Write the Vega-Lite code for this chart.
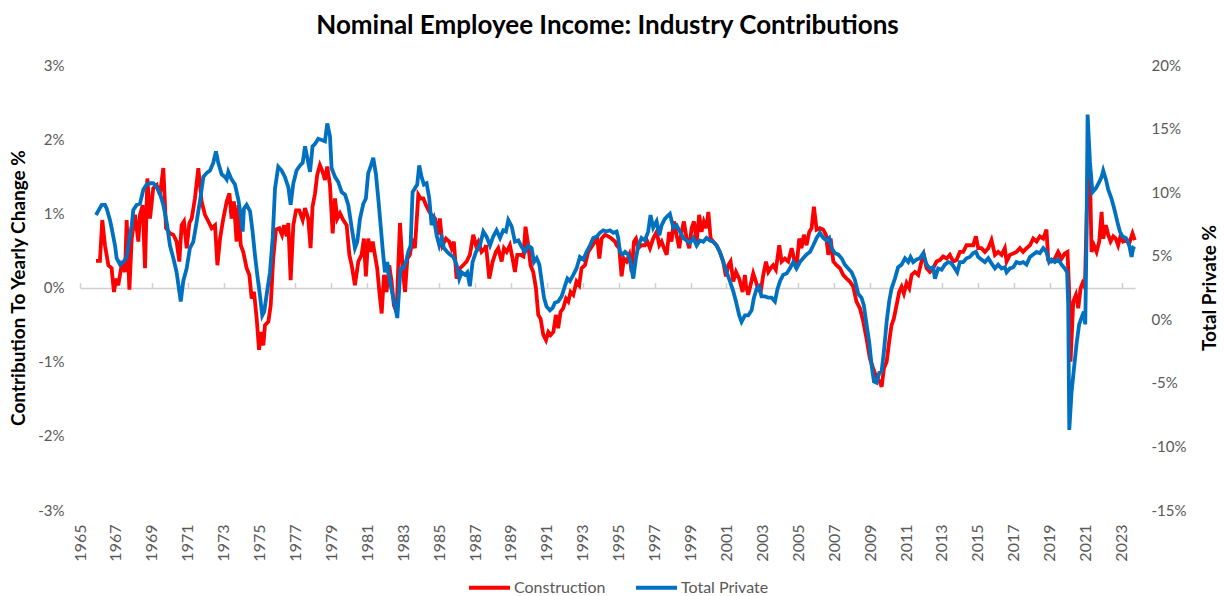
{
  "$schema": "https://vega.github.io/schema/vega-lite/v6.json",
  "width": 1055,
  "height": 445,
  "autosize": {"type": "none"},
  "padding": {"left": 80, "top": 65, "right": 90, "bottom": 86},
  "background": "white",
  "title": {"text": "Nominal Employee Income: Industry Contributions", "font": "Lato", "fontSize": 26, "fontWeight": "bold", "color": "#000000", "anchor": "middle", "offset": 19},
  "config": {"view": {"stroke": null}, "font": "Lato"},
  "datasets": {
    "c": [
      {"t":1965.89,"v":0.36},{"t":1966.11,"v":0.36},{"t":1966.24,"v":0.91},{"t":1966.39,"v":0.57},{"t":1966.58,"v":0.30},{"t":1966.76,"v":0.26},{"t":1966.89,"v":-0.06},{"t":1967.00,"v":0.12},{"t":1967.13,"v":0.03},{"t":1967.32,"v":0.30},{"t":1967.51,"v":0.21},{"t":1967.60,"v":0.91},{"t":1967.75,"v":-0.03},{"t":1967.88,"v":0.66},{"t":1968.06,"v":0.98},{"t":1968.25,"v":0.62},{"t":1968.34,"v":0.98},{"t":1968.49,"v":1.11},{"t":1968.62,"v":0.26},{"t":1968.75,"v":1.47},{"t":1968.90,"v":0.93},{"t":1969.08,"v":1.34},{"t":1969.27,"v":1.38},{"t":1969.45,"v":1.25},{"t":1969.64,"v":1.61},{"t":1969.79,"v":0.80},{"t":1970.01,"v":0.73},{"t":1970.20,"v":0.71},{"t":1970.38,"v":0.62},{"t":1970.53,"v":0.35},{"t":1970.66,"v":0.84},{"t":1970.79,"v":0.89},{"t":1970.94,"v":0.53},{"t":1971.09,"v":0.87},{"t":1971.22,"v":0.93},{"t":1971.40,"v":1.20},{"t":1971.59,"v":1.61},{"t":1971.77,"v":1.16},{"t":1971.96,"v":0.98},{"t":1972.15,"v":0.89},{"t":1972.33,"v":0.80},{"t":1972.52,"v":0.84},{"t":1972.65,"v":0.30},{"t":1972.80,"v":0.66},{"t":1972.98,"v":0.93},
      {"t":1973.17,"v":1.16},{"t":1973.32,"v":1.27},{"t":1973.44,"v":0.93},{"t":1973.57,"v":1.16},{"t":1973.72,"v":0.62},{"t":1973.82,"v":1.11},{"t":1973.95,"v":0.57},{"t":1974.09,"v":0.48},{"t":1974.28,"v":0.26},{"t":1974.43,"v":0.17},{"t":1974.56,"v":-0.15},{"t":1974.69,"v":-0.06},{"t":1974.84,"v":-0.42},{"t":1974.97,"v":-0.84},{"t":1975.08,"v":-0.60},{"t":1975.21,"v":-0.78},{"t":1975.30,"v":-0.51},{"t":1975.49,"v":-0.46},{"t":1975.62,"v":-0.24},{"t":1975.76,"v":0.39},{"t":1975.91,"v":0.78},{"t":1976.10,"v":0.80},{"t":1976.25,"v":0.71},{"t":1976.36,"v":0.84},{"t":1976.51,"v":0.69},{"t":1976.60,"v":0.87},{"t":1976.73,"v":0.10},{"t":1976.88,"v":0.84},{"t":1977.03,"v":1.04},{"t":1977.21,"v":1.04},{"t":1977.40,"v":0.91},{"t":1977.53,"v":1.07},{"t":1977.71,"v":0.93},{"t":1977.84,"v":0.53},{"t":1977.95,"v":1.09},{"t":1978.09,"v":1.27},{"t":1978.21,"v":1.52},{"t":1978.36,"v":1.65},{"t":1978.51,"v":1.56},{"t":1978.64,"v":1.45},{"t":1978.77,"v":1.63},{"t":1978.92,"v":1.38},{"t":1979.07,"v":0.73},{"t":1979.20,"v":1.20},{"t":1979.33,"v":0.93},{"t":1979.48,"v":1.00},{"t":1979.66,"v":0.91},{"t":1979.85,"v":0.84},{"t":1980.00,"v":0.44},{"t":1980.13,"v":0.30},{"t":1980.31,"v":0.03},
      {"t":1980.50,"v":0.35},{"t":1980.68,"v":0.44},{"t":1980.81,"v":0.66},{"t":1980.92,"v":0.15},{"t":1981.05,"v":0.66},{"t":1981.18,"v":0.48},{"t":1981.30,"v":0.62},{"t":1981.42,"v":0.44},{"t":1981.55,"v":0.26},{"t":1981.67,"v":-0.06},{"t":1981.80,"v":-0.35},{"t":1981.93,"v":0.17},{"t":1982.07,"v":-0.06},{"t":1982.22,"v":0.30},{"t":1982.35,"v":0.08},{"t":1982.48,"v":-0.24},{"t":1982.63,"v":-0.33},{"t":1982.72,"v":0.26},{"t":1982.82,"v":0.87},{"t":1982.97,"v":0.26},{"t":1983.10,"v":-0.06},{"t":1983.23,"v":0.39},{"t":1983.37,"v":0.44},{"t":1983.52,"v":0.66},{"t":1983.65,"v":0.53},{"t":1983.84,"v":1.25},{"t":1983.97,"v":1.20},{"t":1984.12,"v":1.20},{"t":1984.27,"v":1.11},{"t":1984.45,"v":1.02},{"t":1984.58,"v":0.98},{"t":1984.77,"v":0.93},{"t":1984.90,"v":0.71},{"t":1985.04,"v":0.93},{"t":1985.19,"v":0.57},{"t":1985.38,"v":0.66},{"t":1985.56,"v":0.62},{"t":1985.69,"v":0.53},{"t":1985.82,"v":0.62},{"t":1985.97,"v":0.12},{"t":1986.16,"v":0.26},{"t":1986.34,"v":0.30},{"t":1986.53,"v":0.35},{"t":1986.71,"v":0.44},{"t":1986.90,"v":0.71},{"t":1987.05,"v":0.57},{"t":1987.18,"v":0.62},{"t":1987.36,"v":0.48},{"t":1987.55,"v":0.53},
      {"t":1987.61,"v":0.57},{"t":1987.79,"v":0.12},{"t":1987.98,"v":0.35},{"t":1988.16,"v":0.48},{"t":1988.29,"v":0.53},{"t":1988.48,"v":0.35},{"t":1988.61,"v":0.53},{"t":1988.76,"v":0.48},{"t":1988.94,"v":0.57},{"t":1989.09,"v":0.39},{"t":1989.22,"v":0.21},{"t":1989.35,"v":0.44},{"t":1989.54,"v":0.44},{"t":1989.69,"v":0.42},{"t":1989.81,"v":0.82},{"t":1989.96,"v":0.57},{"t":1990.09,"v":0.30},{"t":1990.24,"v":0.21},{"t":1990.39,"v":-0.01},{"t":1990.52,"v":-0.37},{"t":1990.65,"v":-0.42},{"t":1990.80,"v":-0.64},{"t":1990.95,"v":-0.71},{"t":1991.08,"v":-0.60},{"t":1991.21,"v":-0.64},{"t":1991.36,"v":-0.60},{"t":1991.50,"v":-0.37},{"t":1991.63,"v":-0.55},{"t":1991.76,"v":-0.33},{"t":1991.91,"v":-0.28},{"t":1992.06,"v":-0.15},{"t":1992.19,"v":-0.19},{"t":1992.32,"v":-0.06},{"t":1992.47,"v":-0.10},{"t":1992.65,"v":0.08},{"t":1992.80,"v":0.03},{"t":1992.93,"v":0.26},{"t":1993.12,"v":0.30},{"t":1993.30,"v":0.48},{"t":1993.49,"v":0.55},{"t":1993.68,"v":0.62},{"t":1993.80,"v":0.69},{"t":1993.92,"v":0.39},{"t":1994.05,"v":0.66},{"t":1994.23,"v":0.71},{"t":1994.42,"v":0.69},{"t":1994.60,"v":0.66},{"t":1994.79,"v":0.62},
      {"t":1994.88,"v":0.57},{"t":1995.03,"v":0.53},{"t":1995.16,"v":0.15},{"t":1995.29,"v":0.39},{"t":1995.44,"v":0.35},{"t":1995.59,"v":0.44},{"t":1995.72,"v":0.21},{"t":1995.85,"v":0.62},{"t":1995.96,"v":0.66},{"t":1996.09,"v":0.53},{"t":1996.27,"v":0.57},{"t":1996.46,"v":0.57},{"t":1996.59,"v":0.62},{"t":1996.74,"v":0.53},{"t":1996.92,"v":0.66},{"t":1997.11,"v":0.75},{"t":1997.26,"v":0.57},{"t":1997.39,"v":0.62},{"t":1997.52,"v":0.53},{"t":1997.67,"v":0.44},{"t":1997.81,"v":0.75},{"t":1997.94,"v":0.62},{"t":1998.07,"v":0.89},{"t":1998.22,"v":0.71},{"t":1998.37,"v":0.53},{"t":1998.50,"v":0.75},{"t":1998.63,"v":0.89},{"t":1998.78,"v":0.66},{"t":1998.93,"v":0.53},{"t":1999.06,"v":0.80},{"t":1999.19,"v":0.89},{"t":1999.34,"v":0.62},{"t":1999.48,"v":0.98},{"t":1999.61,"v":0.75},{"t":1999.74,"v":0.89},{"t":1999.89,"v":0.80},{"t":1999.99,"v":1.02},{"t":2000.12,"v":0.66},{"t":2000.26,"v":0.62},{"t":2000.45,"v":0.57},{"t":2000.63,"v":0.48},{"t":2000.82,"v":0.35},{"t":2000.97,"v":0.15},{"t":2001.10,"v":0.30},{"t":2001.23,"v":0.35},{"t":2001.38,"v":0.08},{"t":2001.53,"v":0.21},{"t":2001.71,"v":0.12},{"t":2001.90,"v":-0.06},{"t":2002.03,"v":0.17},
      {"t":2002.08,"v":0.03},{"t":2002.21,"v":-0.10},{"t":2002.34,"v":0.03},{"t":2002.49,"v":0.19},{"t":2002.64,"v":0.08},{"t":2002.77,"v":-0.03},{"t":2002.90,"v":-0.06},{"t":2003.05,"v":0.17},{"t":2003.20,"v":0.35},{"t":2003.33,"v":0.21},{"t":2003.46,"v":0.26},{"t":2003.60,"v":0.30},{"t":2003.75,"v":0.24},{"t":2003.94,"v":0.57},{"t":2004.07,"v":0.35},{"t":2004.25,"v":0.39},{"t":2004.44,"v":0.35},{"t":2004.63,"v":0.53},{"t":2004.76,"v":0.39},{"t":2004.90,"v":0.26},{"t":2005.05,"v":0.66},{"t":2005.18,"v":0.53},{"t":2005.31,"v":0.71},{"t":2005.46,"v":0.57},{"t":2005.61,"v":0.75},{"t":2005.74,"v":0.80},{"t":2005.87,"v":1.09},{"t":2006.02,"v":0.78},{"t":2006.20,"v":0.80},{"t":2006.39,"v":0.78},{"t":2006.54,"v":0.71},{"t":2006.67,"v":0.44},{"t":2006.80,"v":0.66},{"t":2006.95,"v":0.35},{"t":2007.13,"v":0.30},{"t":2007.32,"v":0.26},{"t":2007.50,"v":0.17},{"t":2007.69,"v":0.12},{"t":2007.87,"v":0.08},{"t":2008.06,"v":0.01},{"t":2008.24,"v":-0.19},{"t":2008.43,"v":-0.28},{"t":2008.62,"v":-0.46},{"t":2008.80,"v":-0.69},{"t":2008.99,"v":-0.96},{"t":2009.17,"v":-1.09},
      {"t":2009.36,"v":-1.22},{"t":2009.54,"v":-1.27},{"t":2009.64,"v":-1.34},{"t":2009.77,"v":-1.09},{"t":2009.92,"v":-1.00},{"t":2010.06,"v":-0.73},{"t":2010.19,"v":-0.51},{"t":2010.32,"v":-0.42},{"t":2010.47,"v":-0.24},{"t":2010.62,"v":-0.06},{"t":2010.75,"v":0.01},{"t":2010.88,"v":-0.08},{"t":2011.03,"v":0.06},{"t":2011.18,"v":-0.01},{"t":2011.31,"v":0.17},{"t":2011.49,"v":0.21},{"t":2011.68,"v":0.17},{"t":2011.86,"v":0.35},{"t":2011.99,"v":0.44},{"t":2012.14,"v":0.26},{"t":2012.33,"v":0.21},{"t":2012.51,"v":0.26},{"t":2012.70,"v":0.35},{"t":2012.88,"v":0.37},{"t":2013.07,"v":0.42},{"t":2013.26,"v":0.39},{"t":2013.44,"v":0.44},{"t":2013.63,"v":0.35},{"t":2013.81,"v":0.37},{"t":2014.00,"v":0.48},{"t":2014.18,"v":0.48},{"t":2014.37,"v":0.57},{"t":2014.55,"v":0.57},{"t":2014.74,"v":0.57},{"t":2014.89,"v":0.69},{"t":2015.02,"v":0.53},{"t":2015.20,"v":0.53},{"t":2015.39,"v":0.48},{"t":2015.58,"v":0.53},{"t":2015.76,"v":0.64},{"t":2015.95,"v":0.44},{"t":2016.13,"v":0.48},{"t":2016.32,"v":0.44},{"t":2016.50,"v":0.53},
      {"t":2016.60,"v":0.35},{"t":2016.78,"v":0.44},{"t":2016.97,"v":0.46},{"t":2017.15,"v":0.48},{"t":2017.34,"v":0.53},{"t":2017.52,"v":0.48},{"t":2017.71,"v":0.53},{"t":2017.90,"v":0.57},{"t":2018.08,"v":0.66},{"t":2018.27,"v":0.62},{"t":2018.45,"v":0.69},{"t":2018.64,"v":0.66},{"t":2018.82,"v":0.78},{"t":2018.92,"v":0.37},{"t":2019.10,"v":0.35},{"t":2019.29,"v":0.39},{"t":2019.47,"v":0.48},{"t":2019.66,"v":0.39},{"t":2019.84,"v":0.46},{"t":2019.99,"v":0.48},{"t":2020.07,"v":0.03},{"t":2020.16,"v":-1.00},{"t":2020.22,"v":-0.69},{"t":2020.31,"v":-0.19},{"t":2020.46,"v":-0.10},{"t":2020.59,"v":-0.28},{"t":2020.72,"v":-0.01},{"t":2020.83,"v":0.06},{"t":2020.96,"v":0.00},{"t":2021.05,"v":0.89},{"t":2021.14,"v":1.74},{"t":2021.24,"v":1.56},{"t":2021.33,"v":0.48},{"t":2021.46,"v":0.57},{"t":2021.61,"v":0.48},{"t":2021.76,"v":0.62},{"t":2021.89,"v":1.02},{"t":2021.98,"v":0.66},{"t":2022.13,"v":0.84},{"t":2022.26,"v":0.71},{"t":2022.39,"v":0.62},{"t":2022.54,"v":0.69},{"t":2022.68,"v":0.66},{"t":2022.81,"v":0.57},{"t":2022.94,"v":0.69},{"t":2023.09,"v":0.62},{"t":2023.28,"v":0.64},{"t":2023.46,"v":0.62},{"t":2023.61,"v":0.73},{"t":2023.74,"v":0.64}
    ],
    "p": [
      {"t":1965.89,"v":8.2},{"t":1966.21,"v":9.0},{"t":1966.39,"v":9.0},{"t":1966.49,"v":8.7},{"t":1966.67,"v":7.8},{"t":1966.76,"v":7.2},{"t":1966.95,"v":5.8},{"t":1967.04,"v":4.8},{"t":1967.23,"v":4.3},{"t":1967.41,"v":4.5},{"t":1967.60,"v":4.9},{"t":1967.69,"v":5.8},{"t":1967.88,"v":7.4},{"t":1967.97,"v":8.6},{"t":1968.16,"v":9.0},{"t":1968.34,"v":9.1},{"t":1968.53,"v":10.2},{"t":1968.71,"v":10.6},{"t":1968.90,"v":10.7},{"t":1969.08,"v":10.7},{"t":1969.27,"v":10.4},{"t":1969.45,"v":9.9},{"t":1969.64,"v":9.0},{"t":1969.83,"v":7.6},{"t":1970.01,"v":5.8},{"t":1970.20,"v":4.8},{"t":1970.38,"v":3.7},{"t":1970.61,"v":1.4},{"t":1970.75,"v":3.0},{"t":1970.94,"v":4.0},{"t":1971.12,"v":5.6},{"t":1971.31,"v":6.1},{"t":1971.50,"v":7.7},{"t":1971.68,"v":9.3},{"t":1971.87,"v":11.2},{"t":1972.05,"v":11.5},{"t":1972.24,"v":11.7},{"t":1972.42,"v":12.3},{"t":1972.57,"v":13.2},{"t":1972.70,"v":12.3},{"t":1972.89,"v":11.4},{"t":1973.07,"v":11.2},
      {"t":1973.17,"v":11.0},{"t":1973.26,"v":11.6},{"t":1973.44,"v":11.0},{"t":1973.63,"v":10.6},{"t":1973.82,"v":9.4},{"t":1973.95,"v":8.2},{"t":1974.06,"v":6.9},{"t":1974.13,"v":8.7},{"t":1974.28,"v":9.0},{"t":1974.47,"v":8.5},{"t":1974.61,"v":6.9},{"t":1974.74,"v":5.1},{"t":1974.87,"v":3.5},{"t":1975.02,"v":1.9},{"t":1975.15,"v":0.3},{"t":1975.26,"v":0.6},{"t":1975.39,"v":1.9},{"t":1975.58,"v":3.7},{"t":1975.73,"v":6.4},{"t":1975.86,"v":10.3},{"t":1976.04,"v":12.0},{"t":1976.23,"v":11.7},{"t":1976.41,"v":11.2},{"t":1976.60,"v":10.4},{"t":1976.73,"v":9.0},{"t":1976.88,"v":10.7},{"t":1977.06,"v":11.7},{"t":1977.25,"v":12.1},{"t":1977.40,"v":12.3},{"t":1977.53,"v":13.6},{"t":1977.66,"v":12.7},{"t":1977.81,"v":11.6},{"t":1977.95,"v":13.6},{"t":1978.09,"v":13.8},{"t":1978.27,"v":14.2},{"t":1978.46,"v":14.1},{"t":1978.64,"v":14.0},{"t":1978.77,"v":15.4},{"t":1978.92,"v":14.4},{"t":1979.01,"v":11.9},{"t":1979.20,"v":11.2},{"t":1979.38,"v":10.8},{"t":1979.57,"v":10.0},{"t":1979.76,"v":9.8},{"t":1979.94,"v":9.0},{"t":1980.13,"v":7.2},{"t":1980.31,"v":5.6},
      {"t":1980.44,"v":6.1},{"t":1980.59,"v":7.9},{"t":1980.78,"v":9.1},{"t":1980.92,"v":9.5},{"t":1981.05,"v":11.5},{"t":1981.18,"v":12.0},{"t":1981.33,"v":12.7},{"t":1981.48,"v":11.4},{"t":1981.61,"v":9.5},{"t":1981.74,"v":7.4},{"t":1981.85,"v":5.6},{"t":1981.98,"v":3.7},{"t":1982.11,"v":4.5},{"t":1982.26,"v":3.0},{"t":1982.41,"v":1.9},{"t":1982.54,"v":1.1},{"t":1982.67,"v":0.1},{"t":1982.78,"v":2.5},{"t":1982.85,"v":4.0},{"t":1983.00,"v":4.0},{"t":1983.15,"v":4.5},{"t":1983.28,"v":5.3},{"t":1983.41,"v":5.8},{"t":1983.52,"v":10.0},{"t":1983.65,"v":10.3},{"t":1983.78,"v":10.6},{"t":1983.89,"v":12.1},{"t":1984.02,"v":11.2},{"t":1984.15,"v":10.6},{"t":1984.30,"v":10.7},{"t":1984.45,"v":9.5},{"t":1984.58,"v":7.4},{"t":1984.71,"v":7.9},{"t":1984.86,"v":6.6},{"t":1985.01,"v":5.8},{"t":1985.14,"v":6.4},{"t":1985.27,"v":5.6},{"t":1985.45,"v":5.3},{"t":1985.60,"v":5.1},{"t":1985.79,"v":4.9},{"t":1985.97,"v":4.3},{"t":1986.12,"v":3.2},{"t":1986.25,"v":3.7},{"t":1986.44,"v":3.5},{"t":1986.57,"v":3.7},{"t":1986.71,"v":2.6},{"t":1986.86,"v":4.5},{"t":1987.05,"v":5.3},{"t":1987.27,"v":5.8},{"t":1987.46,"v":6.9},
      {"t":1987.64,"v":6.5},{"t":1987.83,"v":5.8},{"t":1988.01,"v":6.5},{"t":1988.20,"v":7.0},{"t":1988.39,"v":6.4},{"t":1988.57,"v":7.0},{"t":1988.72,"v":6.9},{"t":1988.85,"v":7.8},{"t":1989.04,"v":7.3},{"t":1989.22,"v":6.1},{"t":1989.41,"v":6.2},{"t":1989.59,"v":5.7},{"t":1989.78,"v":5.3},{"t":1989.96,"v":5.8},{"t":1990.15,"v":5.6},{"t":1990.28,"v":4.5},{"t":1990.43,"v":4.8},{"t":1990.58,"v":4.3},{"t":1990.71,"v":3.0},{"t":1990.84,"v":1.7},{"t":1990.98,"v":1.0},{"t":1991.17,"v":0.7},{"t":1991.32,"v":0.9},{"t":1991.45,"v":1.3},{"t":1991.63,"v":1.4},{"t":1991.82,"v":1.8},{"t":1992.00,"v":2.6},{"t":1992.14,"v":3.2},{"t":1992.28,"v":3.0},{"t":1992.47,"v":3.5},{"t":1992.65,"v":4.0},{"t":1992.84,"v":4.9},{"t":1993.03,"v":4.7},{"t":1993.21,"v":5.3},{"t":1993.40,"v":5.8},{"t":1993.58,"v":6.4},{"t":1993.77,"v":6.5},{"t":1993.95,"v":6.8},{"t":1994.14,"v":7.0},{"t":1994.32,"v":6.9},{"t":1994.51,"v":7.0},{"t":1994.70,"v":6.8},
      {"t":1994.88,"v":6.9},{"t":1994.97,"v":6.4},{"t":1995.07,"v":5.3},{"t":1995.22,"v":5.1},{"t":1995.35,"v":5.3},{"t":1995.53,"v":5.1},{"t":1995.66,"v":4.5},{"t":1995.81,"v":3.2},{"t":1995.96,"v":4.8},{"t":1996.09,"v":5.8},{"t":1996.27,"v":6.4},{"t":1996.46,"v":6.2},{"t":1996.64,"v":6.9},{"t":1996.77,"v":8.2},{"t":1996.92,"v":7.2},{"t":1997.11,"v":7.7},{"t":1997.26,"v":6.6},{"t":1997.39,"v":7.4},{"t":1997.57,"v":7.9},{"t":1997.70,"v":8.1},{"t":1997.85,"v":8.3},{"t":1998.04,"v":7.2},{"t":1998.22,"v":7.4},{"t":1998.41,"v":6.9},{"t":1998.59,"v":6.4},{"t":1998.78,"v":6.2},{"t":1998.96,"v":6.0},{"t":1999.15,"v":6.4},{"t":1999.34,"v":5.8},{"t":1999.52,"v":6.2},{"t":1999.71,"v":6.1},{"t":1999.89,"v":6.4},{"t":2000.08,"v":6.2},{"t":2000.26,"v":6.1},{"t":2000.45,"v":5.8},{"t":2000.63,"v":5.3},{"t":2000.82,"v":4.5},{"t":2001.01,"v":3.7},{"t":2001.19,"v":3.0},{"t":2001.38,"v":2.2},{"t":2001.53,"v":1.4},{"t":2001.71,"v":0.3},{"t":2001.84,"v":-0.2},{"t":2002.03,"v":0.3},
      {"t":2002.21,"v":0.3},{"t":2002.40,"v":0.7},{"t":2002.53,"v":1.7},{"t":2002.68,"v":2.4},{"t":2002.82,"v":2.6},{"t":2002.95,"v":1.8},{"t":2003.14,"v":1.8},{"t":2003.33,"v":1.7},{"t":2003.51,"v":1.7},{"t":2003.70,"v":1.4},{"t":2003.83,"v":2.3},{"t":2003.98,"v":3.0},{"t":2004.16,"v":3.5},{"t":2004.35,"v":3.6},{"t":2004.53,"v":4.0},{"t":2004.72,"v":4.5},{"t":2004.90,"v":4.0},{"t":2005.09,"v":4.5},{"t":2005.27,"v":4.8},{"t":2005.46,"v":5.1},{"t":2005.65,"v":5.3},{"t":2005.83,"v":5.8},{"t":2006.02,"v":6.4},{"t":2006.20,"v":6.8},{"t":2006.39,"v":6.4},{"t":2006.57,"v":6.2},{"t":2006.72,"v":6.4},{"t":2006.85,"v":5.6},{"t":2007.04,"v":5.2},{"t":2007.22,"v":5.1},{"t":2007.41,"v":4.8},{"t":2007.59,"v":4.3},{"t":2007.78,"v":4.0},{"t":2007.97,"v":3.7},{"t":2008.15,"v":3.1},{"t":2008.34,"v":2.0},{"t":2008.52,"v":1.7},{"t":2008.65,"v":1.1},{"t":2008.80,"v":-0.4},{"t":2008.95,"v":-1.8},{"t":2009.08,"v":-3.6},{"t":2009.21,"v":-4.9},
      {"t":2009.36,"v":-5.0},{"t":2009.51,"v":-4.2},{"t":2009.64,"v":-4.1},{"t":2009.77,"v":-2.5},{"t":2009.92,"v":-0.2},{"t":2010.06,"v":1.4},{"t":2010.19,"v":2.4},{"t":2010.38,"v":3.2},{"t":2010.56,"v":4.1},{"t":2010.75,"v":4.3},{"t":2010.94,"v":4.8},{"t":2011.12,"v":4.5},{"t":2011.25,"v":4.9},{"t":2011.40,"v":4.5},{"t":2011.59,"v":4.7},{"t":2011.77,"v":4.8},{"t":2011.96,"v":5.2},{"t":2012.14,"v":4.3},{"t":2012.33,"v":4.0},{"t":2012.51,"v":4.1},{"t":2012.61,"v":3.2},{"t":2012.79,"v":4.0},{"t":2012.98,"v":3.9},{"t":2013.16,"v":4.3},{"t":2013.35,"v":4.5},{"t":2013.53,"v":4.4},{"t":2013.72,"v":4.0},{"t":2013.85,"v":3.7},{"t":2014.00,"v":4.5},{"t":2014.18,"v":4.5},{"t":2014.37,"v":4.8},{"t":2014.55,"v":4.9},{"t":2014.74,"v":5.2},{"t":2014.89,"v":5.3},{"t":2015.02,"v":4.9},{"t":2015.20,"v":4.7},{"t":2015.39,"v":4.5},{"t":2015.58,"v":4.8},{"t":2015.76,"v":4.4},{"t":2015.95,"v":4.0},{"t":2016.13,"v":4.3},{"t":2016.32,"v":4.0},{"t":2016.50,"v":4.1},
      {"t":2016.60,"v":3.7},{"t":2016.78,"v":4.0},{"t":2016.97,"v":4.1},{"t":2017.15,"v":4.5},{"t":2017.34,"v":4.4},{"t":2017.52,"v":4.5},{"t":2017.71,"v":4.3},{"t":2017.90,"v":4.9},{"t":2018.08,"v":5.1},{"t":2018.27,"v":5.3},{"t":2018.45,"v":5.2},{"t":2018.64,"v":5.6},{"t":2018.82,"v":5.3},{"t":2018.97,"v":4.5},{"t":2019.10,"v":4.7},{"t":2019.29,"v":4.5},{"t":2019.47,"v":4.7},{"t":2019.66,"v":4.3},{"t":2019.84,"v":4.0},{"t":2019.97,"v":3.7},{"t":2020.03,"v":1.1},{"t":2020.09,"v":-8.7},{"t":2020.22,"v":-5.7},{"t":2020.35,"v":-3.9},{"t":2020.49,"v":-2.0},{"t":2020.64,"v":-0.4},{"t":2020.77,"v":0.1},{"t":2020.90,"v":0.6},{"t":2020.98,"v":-0.4},{"t":2021.05,"v":6.4},{"t":2021.11,"v":16.1},{"t":2021.24,"v":12.4},{"t":2021.38,"v":10.0},{"t":2021.57,"v":10.3},{"t":2021.76,"v":10.8},{"t":2021.89,"v":11.2},{"t":2021.98,"v":11.7},{"t":2022.13,"v":11.0},{"t":2022.26,"v":10.2},{"t":2022.44,"v":9.5},{"t":2022.63,"v":8.5},{"t":2022.76,"v":7.7},{"t":2022.91,"v":6.9},{"t":2023.06,"v":6.5},{"t":2023.24,"v":6.4},{"t":2023.43,"v":5.8},{"t":2023.56,"v":4.9},{"t":2023.65,"v":5.6},{"t":2023.74,"v":5.5}
    ]
  },
  "encoding": {
    "x": {"field": "t", "type": "quantitative", "scale": {"domain": [1965, 2023.75], "nice": false, "zero": false},
      "axis": {"orient": "bottom", "title": null, "values": [1965,1967,1969,1971,1973,1975,1977,1979,1981,1983,1985,1987,1989,1991,1993,1995,1997,1999,2001,2003,2005,2007,2009,2011,2013,2015,2017,2019,2021,2023],
        "format": "d", "labelAngle": 270, "labelFontSize": 16, "labelColor": "#595959", "labelPadding": 14, "domain": false, "ticks": false,
        "grid": true, "gridColor": "#D0D0D0", "gridWidth": 1.5, "gridDash": [0, 217.5, 5, 2000],
        "labelFlush": false, "labelOverlap": false}}
  },
  "layer": [
    {
      "data": {"name": "c"},
      "mark": {"type": "line", "strokeWidth": 3.8},
      "encoding": {
        "y": {"field": "v", "type": "quantitative", "scale": {"domain": [-3, 3], "nice": false, "zero": false},
          "axis": {"orient": "left", "title": "Contribution To Yearly Change %", "values": [-3,-2,-1,0,1,2,3], "labelExpr": "datum.value + '%'",
            "labelFontSize": 15, "labelColor": "#595959", "labelPadding": 16, "domain": false, "ticks": false,
            "grid": true, "gridWidth": 1.5, "gridColor": {"condition": {"test": "datum.value === 0", "value": "#D0D0D0"}, "value": "transparent"},
            "titleFontSize": 19, "titleFontWeight": "bold", "titleColor": "#000000", "titlePadding": 9}},
        "color": {"datum": "Construction", "type": "nominal",
          "scale": {"domain": ["Construction", "Total Private"], "range": ["#FF0000", "#0070C0"]},
          "legend": {"title": null, "orient": "none", "legendX": 387, "legendY": 500, "direction": "horizontal", "symbolType": "stroke", "symbolSize": 1681, "symbolStrokeWidth": 4, "labelFontSize": 16, "labelColor": "#595959", "labelOffset": 2, "columnPadding": 22}}
      }
    },
    {
      "data": {"name": "p"},
      "mark": {"type": "line", "strokeWidth": 3.8},
      "encoding": {
        "y": {"field": "v", "type": "quantitative", "scale": {"domain": [-15, 20], "nice": false, "zero": false},
          "axis": {"orient": "right", "title": "Total Private %", "values": [-15,-10,-5,0,5,10,15,20], "labelExpr": "datum.value + '%'",
            "labelFontSize": 15, "labelColor": "#595959", "labelPadding": 16, "domain": false, "ticks": false, "grid": false,
            "titleFontSize": 19, "titleFontWeight": "bold", "titleColor": "#000000", "titlePadding": 34, "titleAngle": 270}},
        "color": {"datum": "Total Private", "type": "nominal"}
      }
    }
  ],
  "resolve": {"scale": {"y": "independent"}}
}
